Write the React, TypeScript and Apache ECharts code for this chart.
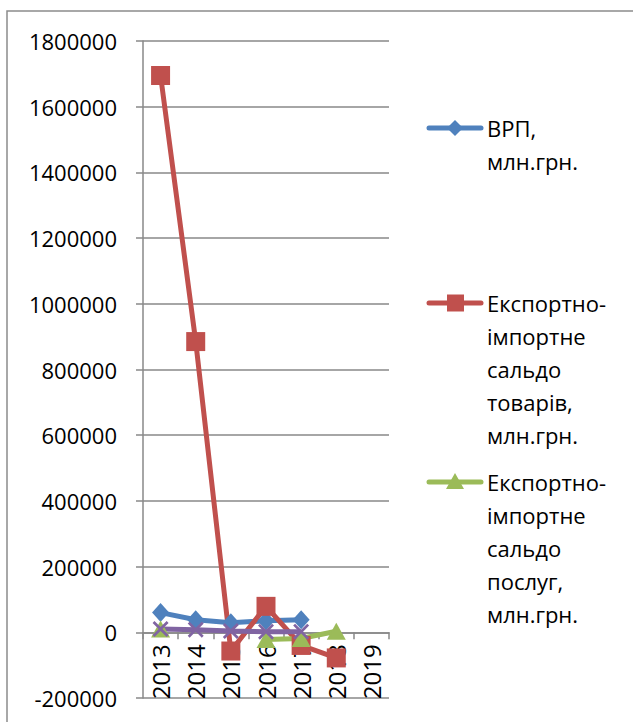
import React, { useEffect, useRef } from "react";
import * as echarts from "echarts";

const years = ["2013", "2014", "2015", "2016", "2017", "2018", "2019"];
const gdp = [60000, 38000, 29000, 35000, 38000, null, null];
const goods = [1695000, 885000, -57000, 79000, -40000, -78000, null];
const services = [10000, null, null, -22000, -19000, 3000, null];
const other = [10000, 8000, 4000, 2000, 2000, null, null];

const seriesNames = [
  "ВРП, млн.грн.",
  "Експортно-імпортне сальдо товарів, млн.грн.",
  "Експортно-імпортне сальдо послуг, млн.грн.",
  "Інше",
];
const legendLines = [
  ["ВРП,", "млн.грн."],
  ["Експортно-", "імпортне", "сальдо", "товарів,", "млн.грн."],
  ["Експортно-", "імпортне", "сальдо", "послуг,", "млн.грн."],
];
const colors = ["#4F81BD", "#C0504D", "#9BBB59", "#8064A2"];
const yMin = -200000;
const yMax = 1800000;
const yStep = 200000;

const FONT = "Open Sans";
const X_SYMBOL =
  "path://M0,1.2 L1.2,0 L5,3.8 L8.8,0 L10,1.2 L6.2,5 L10,8.8 L8.8,10 L5,6.2 L1.2,10 L0,8.8 L3.8,5 Z";

export default function App() {
  const ref = useRef<HTMLDivElement>(null);
  useEffect(() => {
    if (!ref.current) return;
    const chart = echarts.init(ref.current, null, { renderer: "svg" });

    const gridTop = 41;
    const gridBottomPx = 698;
    const zeroOffset =
      ((0 - yMin) / (yMax - yMin)) * (gridBottomPx - gridTop);

    const legendY = [128, 303, 482];
    const graphics: any[] = [
      {
        type: "rect",
        shape: { x: 7, y: 11, width: 800, height: 900 },
        style: { fill: "none", stroke: "#8c8c8c", lineWidth: 1.5 },
        silent: true,
      },
    ];
    legendLines.forEach((lines, i) => {
      const y = legendY[i];
      const c = colors[i];
      graphics.push({
        type: "line",
        shape: { x1: 429, y1: y, x2: 481, y2: y },
        style: { stroke: c, lineWidth: 5, lineCap: "round" },
      });
      if (i === 0) {
        graphics.push({
          type: "polygon",
          shape: { points: [[455, y - 8], [463, y], [455, y + 8], [447, y]] },
          style: { fill: c },
        });
      } else if (i === 1) {
        graphics.push({
          type: "rect",
          shape: { x: 447, y: y - 8.5, width: 17, height: 17 },
          style: { fill: c },
        });
      } else {
        graphics.push({
          type: "polygon",
          shape: { points: [[455, y - 9], [464, y + 7], [446, y + 7]] },
          style: { fill: c },
        });
      }
      graphics.push({
        type: "text",
        x: 487,
        y: y - 16.5,
        style: {
          text: lines.join("\n"),
          font: `22px "${FONT}"`,
          fill: "#000",
          lineHeight: 33,
          verticalAlign: "top",
          align: "left",
        },
      });
    });

    const option: any = {
      animation: false,
      backgroundColor: "#fff",
      textStyle: { fontFamily: FONT },
      grid: {
        left: 143,
        right: 244,
        top: gridTop,
        bottom: 722 - gridBottomPx,
        containLabel: false,
        outerBoundsMode: "none",
      },
      xAxis: {
        type: "category",
        data: years,
        boundaryGap: true,
        offset: -zeroOffset,
        axisLine: { onZero: false, lineStyle: { color: "#888", width: 1.5 } },
        axisTick: { show: true, length: 7, alignWithLabel: false, lineStyle: { color: "#888", width: 1.5 } },
        axisLabel: {
          rotate: 90,
          margin: 12,
          fontSize: 24,
          color: "#000",
          fontFamily: FONT,
          interval: 0,
          hideOverlap: false,
        },
        splitLine: { show: false },
      },
      yAxis: {
        type: "value",
        min: yMin,
        max: yMax,
        interval: yStep,
        axisLine: { show: true, lineStyle: { color: "#888", width: 1.5 } },
        axisTick: { show: true, length: 7, lineStyle: { color: "#888", width: 1.5 } },
        axisLabel: {
          fontSize: 22,
          color: "#000",
          margin: 26,
          fontFamily: FONT,
          formatter: (v: number) => String(v),
        },
        splitLine: { show: true, lineStyle: { color: "#888", width: 1.5 } },
      },
      graphic: graphics,
      series: [
        {
          name: seriesNames[0],
          type: "line",
          data: gdp,
          symbol: "diamond",
          symbolSize: [17, 19],
          lineStyle: { color: colors[0], width: 5 },
          itemStyle: { color: colors[0] },
        },
        {
          name: seriesNames[1],
          type: "line",
          data: goods,
          symbol: "rect",
          symbolSize: 19,
          lineStyle: { color: colors[1], width: 5 },
          itemStyle: { color: colors[1] },
        },
        {
          name: seriesNames[2],
          type: "line",
          data: services,
          symbol: "triangle",
          symbolSize: [19, 17],
          connectNulls: false,
          lineStyle: { color: colors[2], width: 5 },
          itemStyle: { color: colors[2] },
        },
        {
          name: seriesNames[3],
          type: "line",
          data: other,
          symbol: X_SYMBOL,
          symbolSize: 16,
          lineStyle: { color: colors[3], width: 5 },
          itemStyle: { color: colors[3] },
        },
      ],
    };
    chart.setOption(option);
    return () => chart.dispose();
  }, []);
  return (
    <div
      ref={ref}
      style={{ position: "fixed", left: 0, top: 0, width: 633, height: 722 }}
    />
  );
}
